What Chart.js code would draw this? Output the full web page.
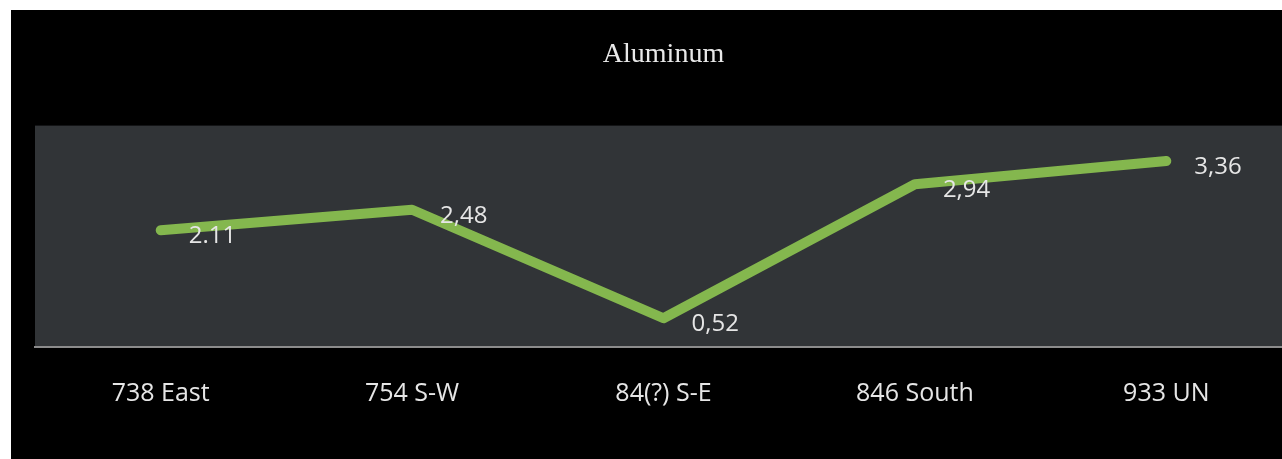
<!DOCTYPE html>
<html>
<head>
<meta charset="utf-8">
<title>Aluminum</title>
<script src="https://cdn.jsdelivr.net/npm/chart.js@4"></script>
<style>
  html, body { margin: 0; padding: 0; background: #fff; overflow: hidden; }
  #wrap { position: absolute; left: 11px; top: 10px; width: 1294px; height: 449px; background: #000; }
</style>
</head>
<body>
<div id="wrap"><canvas id="myChart"></canvas></div>
<script>
// categories and values
var categories = ['738 East', '754 S-W', '84(?) S-E', '846 South', '933 UN'];
var values = [2.11, 2.48, 0.52, 2.94, 3.36];
var valueLabels = ['2.11', '2,48', '0,52', '2,94', '3,36'];

// plot background + value labels
var plotBg = {
  id: 'plotBg',
  beforeDraw: function (chart) {
    var a = chart.chartArea, ctx = chart.ctx;
    ctx.save();
    ctx.fillStyle = '#313437';
    ctx.fillRect(a.left, a.top, a.right - a.left, a.bottom - a.top);
    ctx.restore();
  }
};

var valueText = {
  id: 'valueText',
  afterDatasetsDraw: function (chart) {
    var ctx = chart.ctx;
    var meta = chart.getDatasetMeta(0);
    ctx.save();
    ctx.font = '24px "Open Sans"';
    ctx.fillStyle = '#e6e6e6';
    ctx.textAlign = 'left';
    ctx.textBaseline = 'middle';
    meta.data.forEach(function (pt, i) {
      ctx.fillText(valueLabels[i], pt.x + 28, pt.y + 6);
    });
    ctx.restore();
  }
};

var ctx = document.getElementById('myChart').getContext('2d');
var myChart = new Chart(ctx, {
  type: 'line',
  data: {
    labels: categories,
    datasets: [{
      label: 'Aluminum',
      data: values,
      borderColor: '#84b74e',
      borderWidth: 10,
      borderCapStyle: 'round',
      borderJoinStyle: 'round',
      pointRadius: 0,
      tension: 0,
      fill: false
    }]
  },
  options: {
    responsive: true,
    maintainAspectRatio: false,
    animation: false,
    layout: { padding: { left: 24, right: 13, top: 0, bottom: 18 } },
    plugins: {
      legend: { display: false },
      tooltip: { enabled: false },
      title: {
        display: true,
        text: 'Aluminum',
        color: '#e8e8e8',
        font: { family: '"Liberation Serif", "Times New Roman", serif', size: 28, weight: 'normal' },
        padding: { top: 28, bottom: 54 }
      }
    },
    scales: {
      x: {
        offset: true,
        grid: { display: false, drawTicks: false },
        border: { display: true, color: '#8c8c8c', width: 2 },
        ticks: { color: '#e6e6e6', padding: 32, font: { family: '"Open Sans"', size: 25 }, maxRotation: 0 }
      },
      y: {
        display: false,
        min: 0,
        max: 4
      }
    }
  },
  plugins: [plotBg, valueText]
});
</script>
</body>
</html>
